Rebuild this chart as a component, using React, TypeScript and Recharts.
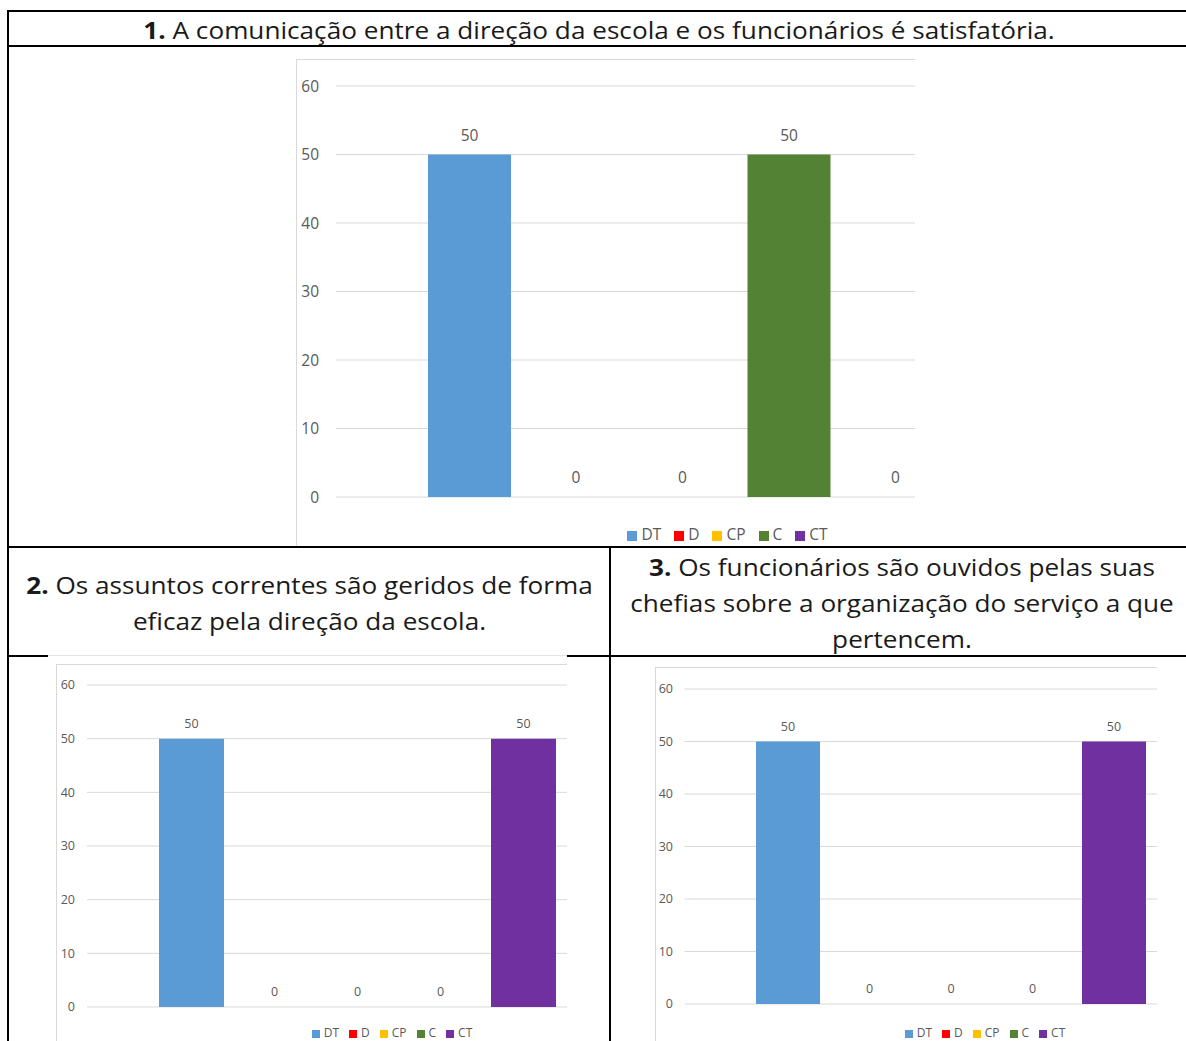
import React from 'react';
import { BarChart, Bar, XAxis, YAxis, CartesianGrid, Legend, LabelList } from 'recharts';

// series / legend entries
const series = ['DT', 'D', 'CP', 'C', 'CT'];
const seriesColors = ['#5B9BD5', '#FF0000', '#FFC000', '#548235', '#7030A0'];
const yTicks = [0, 10, 20, 30, 40, 50, 60];

// answers (%) per question, in series order
const q1Values = [50, 0, 0, 50, 0];
const q2Values = [50, 0, 0, 0, 50];
const q3Values = [50, 0, 0, 0, 50];

const q1Text = 'A comunicação entre a direção da escola e os funcionários é satisfatória.';
const q2Lines = ['Os assuntos correntes são geridos de forma', 'eficaz pela direção da escola.'];
const q3Lines = ['Os funcionários são ouvidos pelas suas', 'chefias sobre a organização do serviço a que', 'pertencem.'];

const toRows = (vals: number[]) => {
  const row: Record<string, string | number> = { name: '' };
  series.forEach((s, i) => { row[s] = vals[i]; });
  return [row];
};

const TXT = '#595959';
const GRID = '#d9d9d9';

type ChartProps = {
  values: number[];
  left: number; top: number; clipW: number; clipH: number;
  width: number; height: number;
  margin: { top: number; right: number; bottom: number; left: number };
  yWidth: number; tickMargin: number;
  catGap: number; barGap: number;
  fontSize: number; legendSize: number; iconSize: number; legendTop: number;
  labelOffset: number; className?: string;
};

function QuestionChart(p: ChartProps) {
  // value label above each bar, also drawn for the empty (0) bars
  const renderLabel = (lp: any) => {
    const { x, y, width, value } = lp;
    return (
      <text x={Number(x) + Number(width) / 2} y={Number(y) - p.labelOffset} textAnchor="middle"
        fill={TXT} fontSize={p.fontSize}>{value}</text>
    );
  };
  return (
    <div className={p.className} style={{
      position: 'absolute', left: p.left, top: p.top, width: p.clipW, height: p.clipH,
      overflow: 'hidden', borderTop: `1px solid ${GRID}`, borderLeft: `1px solid ${GRID}`,
      boxSizing: 'border-box', background: '#fff', fontFamily: '"Open Sans", sans-serif',
    }}>
      <BarChart width={p.width} height={p.height} data={toRows(p.values)} margin={p.margin}
        barCategoryGap={p.catGap} barGap={p.barGap}>
        <CartesianGrid vertical={false} stroke={GRID} />
        <XAxis dataKey="name" hide />
        <YAxis domain={[0, 60]} ticks={yTicks} interval={0} width={p.yWidth} axisLine={false}
          tickLine={false} tickSize={0} tickMargin={p.tickMargin}
          tick={{ fill: TXT, fontSize: p.fontSize }} />
        <Legend verticalAlign="middle" align="center" layout="horizontal" iconType="square" iconSize={p.iconSize}
          itemSorter={(item: any) => series.indexOf(item.value)}
          wrapperStyle={{ left: 0, top: p.legendTop, width: p.width, fontSize: p.legendSize, lineHeight: '20px' }}
          formatter={(v) => <span style={{ color: TXT }}>{v}</span>} />
        {series.map((s, i) => (
          <Bar key={s} dataKey={s} fill={seriesColors[i]} minPointSize={0.01} isAnimationActive={false}>
            <LabelList dataKey={s} content={renderLabel} />
          </Bar>
        ))}
      </BarChart>
    </div>
  );
}

const line = (left: number, top: number, width: number, height: number) => (
  <div style={{ position: 'absolute', left, top, width, height, background: '#000' }} />
);

const headStyle: React.CSSProperties = {
  position: 'absolute', lineHeight: '36px', textAlign: 'center', fontSize: 24,
  whiteSpace: 'nowrap', transform: 'scaleX(1.09)', transformOrigin: 'center',
};

export default function App() {
  return (
    <div style={{ position: 'absolute', left: 0, top: 0, width: 1186, height: 1041, overflow: 'hidden', background: '#fff', fontFamily: '"Open Sans", sans-serif', color: '#1a1a1a' }}>
      <style>{'.wide-legend .recharts-legend-item { margin-right: 13px !important; }'}</style>
      {/* question 1 header */}
      <div style={{ ...headStyle, left: 9, top: 12, width: 1180, height: 36 }}>
        <b>1.</b> {q1Text}
      </div>
      {/* question 2 header */}
      <div style={{ ...headStyle, left: 9, top: 567, width: 601 }}>
        {q2Lines.map((t, i) => <div key={i}>{i === 0 ? <><b>2.</b> {t}</> : t}</div>)}
      </div>
      {/* question 3 header */}
      <div style={{ ...headStyle, left: 612, top: 549, width: 580 }}>
        {q3Lines.map((t, i) => <div key={i}>{i === 0 ? <><b>3.</b> {t}</> : t}</div>)}
      </div>

      {line(7, 10, 1179, 2)}
      {line(7, 10, 2, 1031)}
      {line(7, 45, 1179, 2)}
      {line(7, 546, 1179, 2)}
      {line(7, 655, 1179, 2)}
      {line(609, 546, 2, 495)}

      <QuestionChart className="wide-legend" values={q1Values} left={296} top={59} clipW={619} clipH={487}
        width={874} height={488} margin={{ top: 26, right: 142, bottom: 51, left: 0 }}
        yWidth={39} tickMargin={17} catGap={92} barGap={23.5}
        fontSize={15.5} legendSize={15.5} iconSize={10} legendTop={464} labelOffset={14} />

      {/* white patch of the pasted chart image over the table rule */}
      <div style={{ position: 'absolute', left: 48, top: 655, width: 519, height: 386, background: '#fff', borderTop: '1px solid #e3e3e3', boxSizing: 'border-box' }} />
      <QuestionChart values={q2Values} left={56} top={664} clipW={511} clipH={377}
        width={680} height={377} margin={{ top: 20, right: 109, bottom: 35, left: 0 }}
        yWidth={30} tickMargin={12} catGap={72} barGap={18}
        fontSize={12.5} legendSize={12} iconSize={8} legendTop={358} labelOffset={11} />

      <QuestionChart values={q3Values} left={655} top={667} clipW={502} clipH={374}
        width={668} height={374} margin={{ top: 21, right: 106, bottom: 38, left: 0 }}
        yWidth={28.5} tickMargin={11.5} catGap={71.5} barGap={17.5}
        fontSize={12.5} legendSize={12} iconSize={8} legendTop={355} labelOffset={11} />
    </div>
  );
}
